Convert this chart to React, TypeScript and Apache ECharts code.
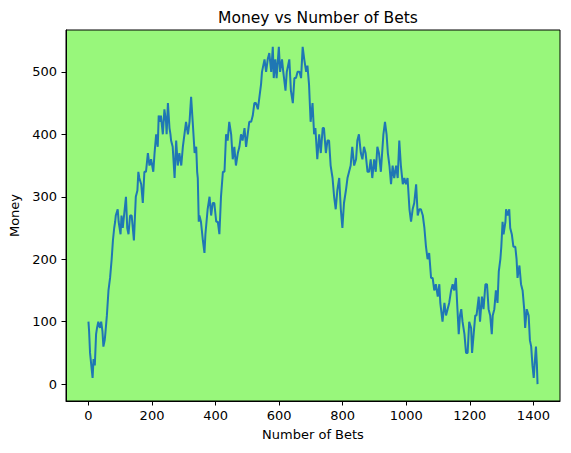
import React, { useEffect, useRef } from "react";
import * as echarts from "echarts";

const bets = [
  0, 2, 5, 9, 13, 16, 20, 24, 27, 31, 36, 40, 44, 47, 51, 53, 58, 63, 68, 73,
  77, 81, 84, 86, 92, 95, 101, 104, 108, 118, 122, 126, 131, 136, 143, 149, 154, 157, 160, 166,
  171, 176, 181, 187, 192, 197, 204, 208, 213, 218, 221, 225, 228, 234, 239, 244, 246, 250, 255, 258,
  260, 265, 271, 276, 281, 286, 292, 297, 302, 307, 313, 318, 323, 328, 334, 339, 342, 344, 347, 349,
  354, 360, 365, 368, 375, 381, 386, 391, 396, 402, 407, 412, 417, 423, 428, 433, 438, 443, 449, 454,
  459, 464, 470, 475, 480, 485, 491, 496, 501, 506, 512, 517, 522, 527, 533, 538, 543, 546, 554, 559,
  564, 569, 575, 580, 583, 588, 592, 599, 603, 609, 613, 620, 624, 632, 637, 643, 648, 653, 658, 664,
  669, 674, 679, 685, 689, 694, 699, 705, 710, 714, 720, 726, 731, 737, 741, 747, 752, 757, 762, 768,
  773, 778, 783, 789, 794, 799, 804, 810, 815, 820, 825, 830, 836, 842, 846, 851, 857, 862, 867, 872,
  878, 883, 888, 893, 899, 904, 909, 914, 920, 928, 933, 938, 942, 947, 952, 957, 962, 968, 973, 978,
  983, 989, 994, 999, 1004, 1010, 1015, 1020, 1025, 1031, 1036, 1041, 1046, 1052, 1057, 1062, 1067, 1072, 1078, 1083,
  1088, 1093, 1099, 1104, 1107, 1114, 1120, 1125, 1130, 1135, 1141, 1146, 1151, 1156, 1161, 1165, 1169, 1173, 1177, 1183,
  1188, 1193, 1198, 1204, 1207, 1212, 1217, 1221, 1228, 1232, 1238, 1243, 1249, 1254, 1259, 1264, 1269, 1272, 1277, 1282,
  1287, 1291, 1296, 1299, 1303, 1306, 1312, 1314, 1319, 1324, 1327, 1332, 1337, 1343, 1347, 1350, 1356, 1361, 1366, 1371,
  1374, 1379, 1385, 1389, 1393, 1397, 1401, 1405, 1408, 1411, 1413,
];

// Money after that bet
const money = [
  100, 85, 50, 30, 10, 40, 30, 80, 90, 100, 90, 100, 85, 60, 70, 80, 110, 150, 170, 200,
  230, 250, 260, 270, 280, 260, 240, 270, 250, 300, 250, 240, 270, 270, 230, 300, 310, 340, 330, 320,
  290, 340, 340, 370, 350, 360, 340, 370, 400, 380, 430, 420, 430, 400, 440, 420, 400, 450, 410, 400,
  390, 380, 330, 390, 350, 370, 350, 380, 400, 420, 400, 420, 460, 420, 370, 380, 340, 330, 260, 270,
  260, 230, 210, 240, 280, 300, 270, 290, 290, 260, 260, 240, 300, 340, 340, 400, 390, 420, 400, 360,
  380, 350, 370, 380, 400, 390, 410, 380, 400, 420, 420, 430, 450, 450, 440, 460, 480, 500, 520, 500,
  520, 530, 500, 540, 490, 520, 490, 540, 500, 520, 500, 470, 500, 520, 470, 450, 490, 490, 500, 500,
  490, 540, 520, 500, 510, 480, 420, 450, 400, 410, 360, 400, 370, 410, 410, 370, 390, 390, 350, 330,
  300, 280, 310, 330, 280, 250, 290, 310, 330, 340, 350, 380, 350, 360, 390, 400, 370, 360, 380, 370,
  340, 340, 360, 330, 360, 340, 380, 370, 340, 400, 420, 400, 370, 350, 320, 350, 330, 350, 330, 390,
  350, 320, 330, 320, 330, 280, 260, 280, 290, 320, 270, 280, 280, 270, 250, 220, 200, 210, 170, 170,
  150, 160, 140, 160, 130, 100, 130, 110, 120, 130, 150, 160, 150, 170, 120, 80, 110, 120, 100, 80,
  50, 50, 100, 90, 50, 80, 110, 110, 140, 100, 140, 120, 160, 160, 120, 110, 80, 110, 120, 150,
  130, 180, 200, 220, 260, 240, 260, 280, 270, 280, 250, 240, 220, 220, 200, 170, 190, 160, 150, 120,
  90, 120, 110, 70, 60, 30, 10, 40, 60, 30, 0,
];

const xTicks = [0, 200, 400, 600, 800, 1000, 1200, 1400];
const yTicks = [0, 100, 200, 300, 400, 500];

const FONT = "DejaVu Sans";

export default function App() {
  const ref = useRef<HTMLDivElement>(null);

  useEffect(() => {
    if (!ref.current) return;
    const chart = echarts.init(ref.current, undefined, { renderer: "svg" });

    const xLo = Math.min(...bets);
    const xHi = Math.max(...bets);
    const yLo = Math.min(...money);
    const yHi = Math.max(...money);
    const xPad = (xHi - xLo) * 0.05;
    const yPad = (yHi - yLo) * 0.05;

    const points = bets.map((b, i) => [b, money[i]]);

    chart.setOption({
      animation: false,
      backgroundColor: "#ffffff",
      title: {
        text: "Money vs Number of Bets",
        left: 313,
        top: 5,
        textAlign: "center",
        textStyle: {
          fontFamily: FONT,
          fontSize: 15.5,
          fontWeight: "normal",
          color: "#000000",
        },
      },
      grid: {
        left: 66,
        right: 11,
        top: 30,
        bottom: 52,
        show: true,
        backgroundColor: "#98f77b",
        borderColor: "#000000",
        borderWidth: 1,
      },
      xAxis: {
        type: "value",
        min: xLo - xPad,
        max: xHi + xPad,
        name: "Number of Bets",
        nameLocation: "middle",
        nameGap: 27,
        nameTextStyle: { fontFamily: FONT, fontSize: 13, color: "#000000" },
        axisLine: { show: true, onZero: false, lineStyle: { color: "#000000", width: 1 } },
        axisTick: {
          show: true,
          length: 4.5,
          lineStyle: { color: "#000000", width: 1 },
          customValues: xTicks,
        },
        axisLabel: {
          fontFamily: FONT,
          fontSize: 13,
          color: "#000000",
          margin: 8,
          customValues: xTicks,
          formatter: (v: number) => String(v),
        },
        splitLine: { show: false },
      },
      yAxis: {
        type: "value",
        min: yLo - yPad,
        max: yHi + yPad,
        name: "Money",
        nameLocation: "middle",
        nameRotate: 90,
        nameGap: 40,
        nameTextStyle: { fontFamily: FONT, fontSize: 13, color: "#000000" },
        axisLine: { show: true, onZero: false, lineStyle: { color: "#000000", width: 1 } },
        axisTick: {
          show: true,
          length: 4.5,
          lineStyle: { color: "#000000", width: 1 },
          customValues: yTicks,
        },
        axisLabel: {
          fontFamily: FONT,
          fontSize: 13,
          color: "#000000",
          margin: 9,
          customValues: yTicks,
          formatter: (v: number) => String(v),
        },
        splitLine: { show: false },
      },
      series: [
        {
          type: "line",
          data: points,
          showSymbol: false,
          symbol: "none",
          lineStyle: { color: "#1f77b4", width: 2 },
          clip: false,
        },
      ],
    });

    return () => chart.dispose();
  }, []);

  return (
    <div
      ref={ref}
      style={{ position: "fixed", left: 0, top: 0, width: 571, height: 453 }}
    />
  );
}
